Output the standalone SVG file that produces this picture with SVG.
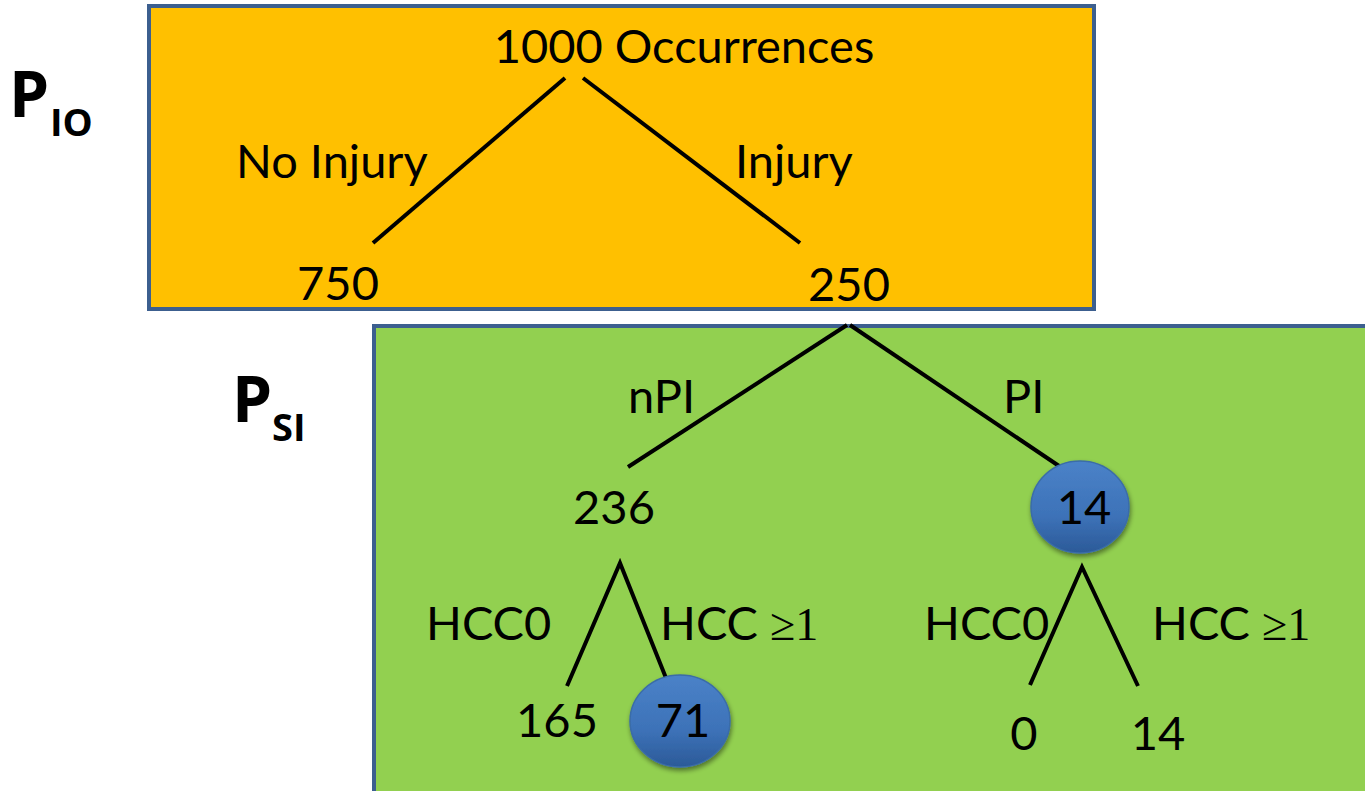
<svg xmlns="http://www.w3.org/2000/svg" width="1365" height="791" viewBox="0 0 1365 791">
<style>
.t{font-family:Lato,"Open Sans","Liberation Sans",sans-serif;font-size:47px;fill:#000}
.m{text-anchor:middle}
.b{font-family:"Open Sans","Liberation Sans",sans-serif;font-weight:bold;fill:#000}
.sym{font-family:"Liberation Serif","DejaVu Serif",serif;font-size:46px}
.ln{stroke:#000;stroke-width:4;fill:none}
.box{stroke:#3C5F8F;stroke-width:4}
.nd{fill:url(#g);stroke:#3A6CA8;stroke-width:1.5;filter:url(#sh)}
</style>
<defs>
<linearGradient id="g" x1="0" y1="0" x2="0" y2="1">
<stop offset="0" stop-color="#4A82C8"/>
<stop offset="0.6" stop-color="#3D72B8"/>
<stop offset="1" stop-color="#2B5A98"/>
</linearGradient>
<filter id="sh" x="-20%" y="-20%" width="150%" height="150%">
<feGaussianBlur in="SourceAlpha" stdDeviation="2.5"/>
<feOffset dx="1" dy="3" result="o"/>
<feComponentTransfer><feFuncA type="linear" slope="0.45"/></feComponentTransfer>
<feMerge><feMergeNode/><feMergeNode in="SourceGraphic"/></feMerge>
</filter>
</defs>
<rect width="1365" height="791" fill="#fff"/>
<g id="box-io"><rect class="box" x="149" y="6" width="945" height="303" fill="#FFC000"/></g>
<g id="box-si"><rect class="box" x="374" y="326" width="995" height="470" fill="#92D050"/></g>
<g id="label-pio"><text class="b" x="9" y="117" font-size="64">P</text><text class="b" x="50" y="136" font-size="38">IO</text></g>
<g id="label-psi"><text class="b" x="232" y="422" font-size="64">P</text><text class="b" x="272" y="441" font-size="38">SI</text></g>
<g id="connectors">
<line class="ln" x1="565" y1="78" x2="373" y2="243"/>
<line class="ln" x1="583" y1="78" x2="800" y2="243"/>
<line class="ln" x1="847" y1="325" x2="628" y2="467"/>
<line class="ln" x1="850" y1="325" x2="1062" y2="468"/>
<polyline class="ln" points="567,686 620,563 668,683"/>
<polyline class="ln" points="1030,685 1082,567 1138,686"/>
</g>
<g id="n-root"><text class="t m" x="684" y="63">1000 Occurrences</text></g>
<g id="e-noinj"><text class="t" x="236" y="178">No Injury</text></g>
<g id="e-inj"><text class="t" x="735" y="178">Injury</text></g>
<g id="n-750"><text class="t m" x="338" y="300">750</text></g>
<g id="n-250"><text class="t m" x="849" y="301">250</text></g>
<g id="e-npi"><text class="t" x="628" y="413">nPI</text></g>
<g id="e-pi"><text class="t" x="1003" y="413">PI</text></g>
<g id="n-236"><text class="t m" x="614" y="524">236</text></g>
<g id="n-14a"><ellipse class="nd" cx="1080" cy="507" rx="49" ry="46"/><text class="t m" x="1084" y="524">14</text></g>
<g id="e-hcc0a"><text class="t" x="426" y="640">HCC0</text></g>
<g id="e-hcc1a"><text class="t" x="660" y="640">HCC <tspan class="sym">≥1</tspan></text></g>
<g id="e-hcc0b"><text class="t" x="924" y="640">HCC0</text></g>
<g id="e-hcc1b"><text class="t" x="1152" y="640">HCC <tspan class="sym">≥1</tspan></text></g>
<g id="n-165"><text class="t m" x="557" y="737">165</text></g>
<g id="n-71"><ellipse class="nd" cx="680" cy="721" rx="50" ry="46"/><text class="t m" x="683" y="737">71</text></g>
<g id="n-0"><text class="t m" x="1024" y="750">0</text></g>
<g id="n-14b"><text class="t m" x="1158" y="750">14</text></g>
</svg>
